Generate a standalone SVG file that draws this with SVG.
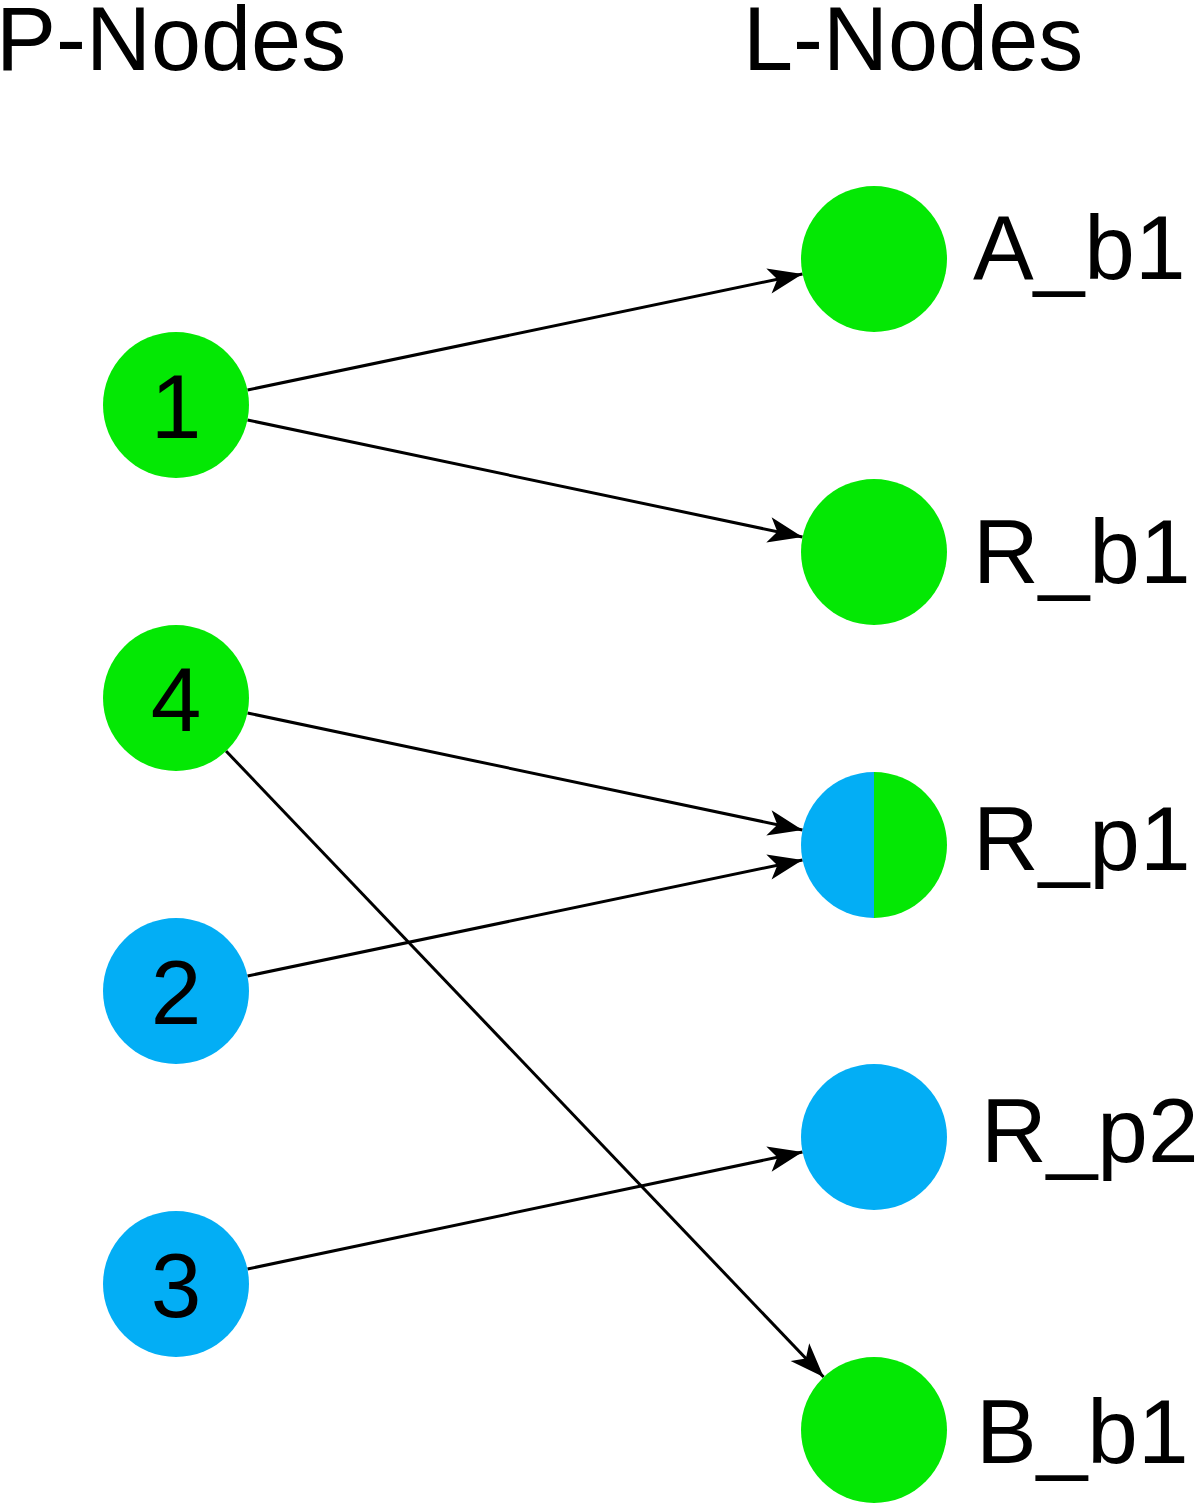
<svg xmlns="http://www.w3.org/2000/svg" width="1200" height="1504" viewBox="0 0 1200 1504">
<style>
.g{fill:#04E804}
.b{fill:#03AEF5}
.t{font-family:"Liberation Sans",Arial,sans-serif;font-size:91px;fill:#000}
.h{font-size:90px}
.n{text-anchor:middle}
.e{stroke:#000;stroke-width:3;fill:none;marker-end:url(#ah)}
</style>
<defs>
<marker id="ah" markerUnits="userSpaceOnUse" markerWidth="40" markerHeight="30" viewBox="-33 -14 35 28" refX="0" refY="0" orient="auto">
<path d="M0,0 L-32,-12 L-24,0 L-32,12 Z" fill="#000"/>
</marker>
</defs>
<rect width="1200" height="1504" fill="#fff"/>
<text class="t h" x="-4" y="70">P-Nodes</text>
<text class="t h" x="743" y="70">L-Nodes</text>
<g id="connectors">
<line class="e" x1="247.5" y1="390" x2="802.5" y2="274"/>
<line class="e" x1="247.5" y1="420" x2="802.5" y2="537"/>
<line class="e" x1="247.5" y1="713" x2="802.5" y2="830"/>
<line class="e" x1="226" y1="751" x2="823.6" y2="1377"/>
<line class="e" x1="247.5" y1="976" x2="802.5" y2="860"/>
<line class="e" x1="247.5" y1="1269" x2="802.5" y2="1152"/>
</g>
<g id="p1"><circle class="g" cx="176" cy="405" r="73"/><text class="t n" x="176" y="438">1</text></g>
<g id="p4"><circle class="g" cx="176" cy="698" r="73"/><text class="t n" x="176" y="731">4</text></g>
<g id="p2"><circle class="b" cx="176" cy="991" r="73"/><text class="t n" x="176" y="1024">2</text></g>
<g id="p3"><circle class="b" cx="176" cy="1284" r="73"/><text class="t n" x="176" y="1317">3</text></g>
<g id="A_b1"><circle class="g" cx="874" cy="259" r="73"/><text class="t" x="973" y="279">A_b1</text></g>
<g id="R_b1"><circle class="g" cx="874" cy="552" r="73"/><text class="t" x="973" y="583">R_b1</text></g>
<g id="R_p1"><path class="b" d="M874,772 A73,73 0 0 0 874,918 Z"/><path class="g" d="M874,772 A73,73 0 0 1 874,918 Z"/><text class="t" x="973" y="870">R_p1</text></g>
<g id="R_p2"><circle class="b" cx="874" cy="1137" r="73"/><text class="t" x="981" y="1162">R_p2</text></g>
<g id="B_b1"><circle class="g" cx="874" cy="1430" r="73"/><text class="t" x="976" y="1463">B_b1</text></g>
</svg>
